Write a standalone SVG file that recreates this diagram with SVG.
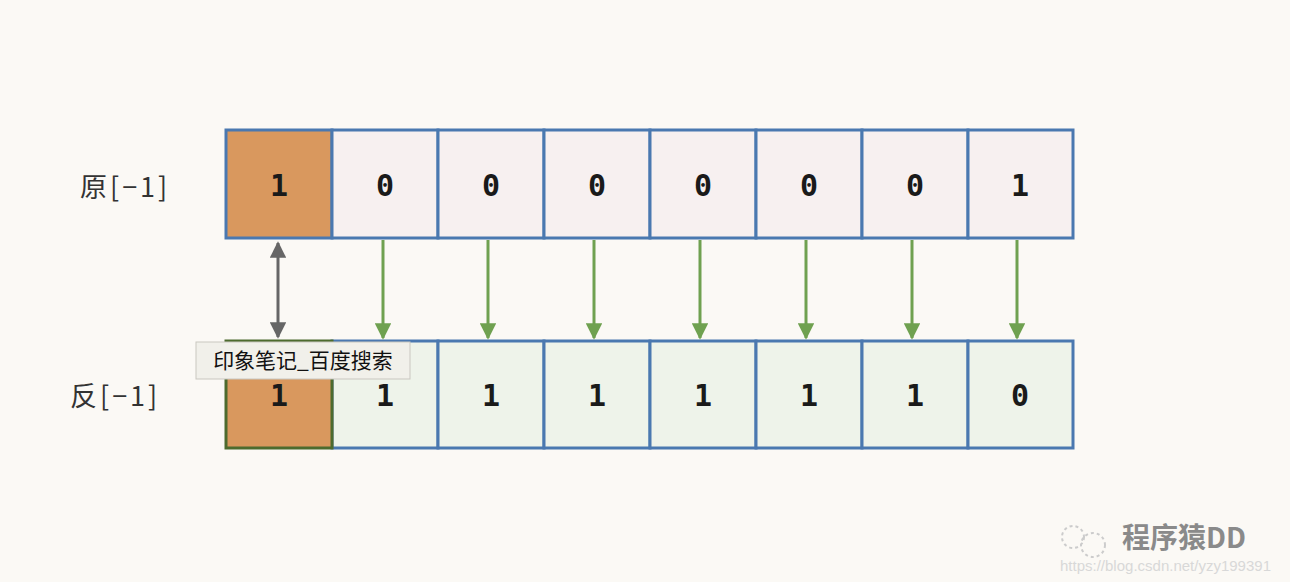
<svg xmlns="http://www.w3.org/2000/svg" width="1290" height="582" viewBox="0 0 1290 582">
<style>
.top{fill:#f7f0f0;stroke:#4a78b0;stroke-width:3}
.bot{fill:#eef3ea;stroke:#4a78b0;stroke-width:3}
.sign{fill:#d9985e;stroke:#4a78b0;stroke-width:3}
.d{font-family:"DejaVu Sans Mono","Liberation Mono",monospace;font-weight:bold;font-size:30px;fill:#1a1a1a;text-anchor:middle}
.lbl{font-family:"Noto Sans CJK SC","DejaVu Sans Mono",sans-serif;font-size:27px;fill:#333;letter-spacing:3px}
.g{stroke:#6fa150;stroke-width:3;marker-end:url(#ga)}
</style>
<defs>
<marker id="ga" viewBox="0 0 10 10" refX="9" refY="5" markerWidth="5.5" markerHeight="5.5" orient="auto"><path d="M0,0L10,5L0,10z" fill="#6fa150"/></marker>
<marker id="ka" viewBox="0 0 10 10" refX="9" refY="5" markerWidth="5.5" markerHeight="5.5" orient="auto-start-reverse"><path d="M0,0L10,5L0,10z" fill="#666"/></marker>
</defs>
<rect width="1290" height="582" fill="#fbf9f5"/>
<g id="label-orig"><text class="lbl" x="80" y="197">原[−1]</text></g>
<g id="label-inv"><text class="lbl" x="70" y="406">反[−1]</text></g>
<g id="row-top">
<rect class="sign" x="226" y="130" width="106" height="108"/><text class="d" x="279" y="196">1</text>
<rect class="top" x="332" y="130" width="106" height="108"/><text class="d" x="385" y="196">0</text>
<rect class="top" x="438" y="130" width="106" height="108"/><text class="d" x="491" y="196">0</text>
<rect class="top" x="544" y="130" width="106" height="108"/><text class="d" x="597" y="196">0</text>
<rect class="top" x="650" y="130" width="106" height="108"/><text class="d" x="703" y="196">0</text>
<rect class="top" x="756" y="130" width="106" height="108"/><text class="d" x="809" y="196">0</text>
<rect class="top" x="862" y="130" width="106" height="108"/><text class="d" x="915" y="196">0</text>
<rect class="top" x="968" y="130" width="105" height="108"/><text class="d" x="1020" y="196">1</text>
</g>
<g id="row-bottom">
<rect class="bot" x="332" y="341" width="106" height="107"/><text class="d" x="385" y="406">1</text>
<rect class="bot" x="438" y="341" width="106" height="107"/><text class="d" x="491" y="406">1</text>
<rect class="bot" x="544" y="341" width="106" height="107"/><text class="d" x="597" y="406">1</text>
<rect class="bot" x="650" y="341" width="106" height="107"/><text class="d" x="703" y="406">1</text>
<rect class="bot" x="756" y="341" width="106" height="107"/><text class="d" x="809" y="406">1</text>
<rect class="bot" x="862" y="341" width="106" height="107"/><text class="d" x="915" y="406">1</text>
<rect class="bot" x="968" y="341" width="105" height="107"/><text class="d" x="1020" y="406">0</text>
<rect x="226" y="341" width="106" height="107" fill="#d9985e" stroke="#4d6b2e" stroke-width="3"/><text class="d" x="279" y="406">1</text>
</g>
<g id="connectors">
<line x1="278" y1="243" x2="278" y2="337" stroke="#666" stroke-width="3" marker-start="url(#ka)" marker-end="url(#ka)"/>
<line class="g" x1="383" y1="240" x2="383" y2="338"/>
<line class="g" x1="488" y1="240" x2="488" y2="338"/>
<line class="g" x1="594" y1="240" x2="594" y2="338"/>
<line class="g" x1="700" y1="240" x2="700" y2="338"/>
<line class="g" x1="806" y1="240" x2="806" y2="338"/>
<line class="g" x1="912" y1="240" x2="912" y2="338"/>
<line class="g" x1="1017" y1="240" x2="1017" y2="338"/>
</g>
<g id="tooltip">
<rect x="196" y="342" width="214" height="37" fill="#f1f0ea" stroke="#c9c7c0" stroke-width="1"/>
<text x="303" y="368" font-family="Noto Sans CJK SC,sans-serif" font-size="21" fill="#111" text-anchor="middle">印象笔记_百度搜索</text>
</g>
<g id="watermark" fill="#8a8a8a">
<circle cx="1073" cy="537" r="11" fill="none" stroke="#ccc" stroke-width="2" stroke-dasharray="3 3"/>
<circle cx="1093" cy="545" r="12" fill="none" stroke="#ccc" stroke-width="2" stroke-dasharray="3 3"/>
<text x="1122" y="548" font-family="Noto Sans CJK SC,sans-serif" font-size="28" font-weight="bold" fill="#8a8a8a">程序猿DD</text>
<text x="1060" y="571" font-family="Liberation Sans,sans-serif" font-size="15" fill="#d8d8d8">https://blog.csdn.net/yzy199391</text>
</g>
</svg>
